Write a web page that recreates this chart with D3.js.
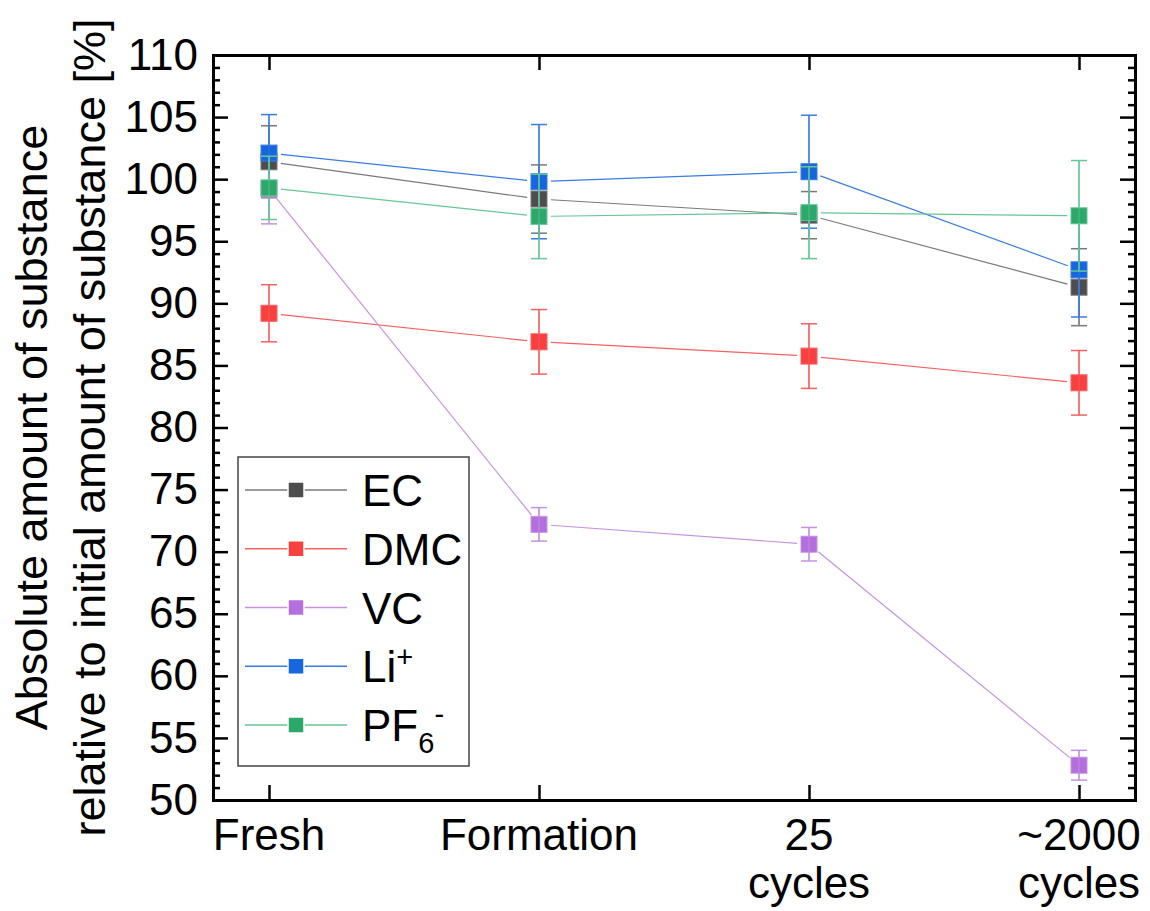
<!DOCTYPE html>
<html lang="en">
<head>
    <meta charset="UTF-8">
    <title>Absolute amount of substance</title>
    <script src="https://d3js.org/d3.v7.min.js"></script>
    <style>
        body { margin: 0; background: #fff; }
        svg { display: block; }
        text {
            font-family: "Liberation Sans", Arial, sans-serif;
            fill: #000;
        }
        .axis .domain { stroke: #000; stroke-width: 3; stroke-linecap: square; }
        .axis .tick line { stroke: #000; stroke-width: 2.5; }
        .axis text { font-size: 44px; }
    </style>
</head>
<body>
<svg id="chart" width="1150" height="911"></svg>

<script>
    // stages along x, second line used for "cycles"
    const stages = ["Fresh", "Formation", "25 cycles", "~2000 cycles"];
    const stageLines = [["Fresh"], ["Formation"], ["25", "cycles"], ["~2000", "cycles"]];

    const seriesNames = ["EC", "DMC", "VC", "Li+", "PF6-"];
    const ecValues  = [101.4, 98.4, 97.1, 91.3];
    const ecErrors  = [2.9, 2.75, 1.9, 3.1];
    const dmcValues = [89.2, 86.9, 85.75, 83.6];
    const dmcErrors = [2.3, 2.6, 2.6, 2.6];
    const vcValues  = [99.2, 72.2, 70.6, 52.8];
    const vcErrors  = [2.8, 1.35, 1.35, 1.2];
    const liValues  = [102.1, 99.8, 100.6, 92.7];
    const liErrors  = [3.1, 4.6, 4.55, 3.8];
    const pfValues  = [99.3, 97.0, 97.3, 97.05];
    const pfErrors  = [2.55, 3.4, 3.7, 4.45];

    const yTicks = d3.range(50, 111, 5);
    const yMinorTicks = d3.range(50, 111, 1).filter(v => v % 5 !== 0);

    const colors = ["#4d4d4d", "#f94040", "#b370dc", "#1666dd", "#2ca86a"];
    const lineColors = ["#7a7a7a", "#f86060", "#c592e6", "#3a7ce6", "#66c696"];

    const series = [
        { name: "EC", values: ecValues, errors: ecErrors },
        { name: "DMC", values: dmcValues, errors: dmcErrors },
        { name: "VC", values: vcValues, errors: vcErrors },
        { name: "Li+", values: liValues, errors: liErrors },
        { name: "PF6-", values: pfValues, errors: pfErrors }
    ];

    const margin = { top: 55, right: 15, bottom: 111, left: 213 };
    const width = 1150 - margin.left - margin.right;
    const height = 911 - margin.top - margin.bottom;

    const svg = d3.select("#chart");
    const g = svg.append("g").attr("transform", `translate(${margin.left},${margin.top})`);

    const x = d3.scalePoint().domain(stages).range([0, width]).padding(0.2074);
    const y = d3.scaleLinear().domain([50, 110]).range([height, 0]);

    const markerSize = 16;
    const capWidth = 16;
    const gap = 12; // lines stop short of the markers

    // series: lines, error bars, markers
    series.forEach((s, i) => {
        const pts = s.values.map((v, j) => ({ x: x(stages[j]), y: y(v), lo: y(v - s.errors[j]), hi: y(v + s.errors[j]) }));
        const sg = g.append("g");

        for (let j = 0; j < pts.length - 1; j++) {
            const a = pts[j], b = pts[j + 1];
            const dx = b.x - a.x, dy = b.y - a.y;
            const len = Math.sqrt(dx * dx + dy * dy);
            const ux = dx / len, uy = dy / len;
            sg.append("line")
                .attr("x1", a.x + ux * gap).attr("y1", a.y + uy * gap)
                .attr("x2", b.x - ux * gap).attr("y2", b.y - uy * gap)
                .attr("stroke", lineColors[i]).attr("stroke-width", 1.2);
        }

        pts.forEach(p => {
            sg.append("line")
                .attr("x1", p.x).attr("x2", p.x).attr("y1", p.hi).attr("y2", p.lo)
                .attr("stroke", lineColors[i]).attr("stroke-width", 1.5);
            [p.hi, p.lo].forEach(cy => {
                sg.append("line")
                    .attr("x1", p.x - capWidth / 2).attr("x2", p.x + capWidth / 2)
                    .attr("y1", cy).attr("y2", cy)
                    .attr("stroke", lineColors[i]).attr("stroke-width", 1.5);
            });
        });

        sg.selectAll("rect")
            .data(pts)
            .enter().append("rect")
            .attr("x", d => d.x - markerSize / 2)
            .attr("y", d => d.y - markerSize / 2)
            .attr("width", markerSize)
            .attr("height", markerSize)
            .attr("fill", colors[i])
            .attr("stroke", lineColors[i])
            .attr("stroke-width", 1);

        // error bar stems drawn over own marker, like the original
        pts.forEach(p => {
            sg.append("line")
                .attr("x1", p.x).attr("x2", p.x).attr("y1", p.hi).attr("y2", p.lo)
                .attr("stroke", lineColors[i]).attr("stroke-width", 1.2).attr("opacity", 0.6);
        });
    });

    // axes (ticks inward on all four sides)
    g.append("g").attr("class", "axis")
        .call(d3.axisLeft(y).tickValues(yTicks).tickSize(-15).tickSizeOuter(0).tickPadding(15));
    g.append("g").attr("class", "axis")
        .call(d3.axisLeft(y).tickValues(yMinorTicks).tickSize(-7).tickSizeOuter(0).tickFormat(""))
        .select(".domain").remove();
    g.append("g").attr("class", "axis").attr("transform", `translate(${width},0)`)
        .call(d3.axisRight(y).tickValues(yTicks).tickSize(-15).tickSizeOuter(0).tickFormat(""));
    g.append("g").attr("class", "axis").attr("transform", `translate(${width},0)`)
        .call(d3.axisRight(y).tickValues(yMinorTicks).tickSize(-7).tickSizeOuter(0).tickFormat(""))
        .select(".domain").remove();
    g.append("g").attr("class", "axis").attr("transform", `translate(0,${height})`)
        .call(d3.axisBottom(x).tickSize(-15).tickSizeOuter(0).tickFormat(""));
    g.append("g").attr("class", "axis")
        .call(d3.axisTop(x).tickSize(-15).tickSizeOuter(0).tickFormat(""));

    // x labels, two lines where needed
    const xLabels = g.append("g");
    stages.forEach((st, i) => {
        const t = xLabels.append("text")
            .attr("x", x(st))
            .attr("y", height + 50)
            .attr("text-anchor", "middle")
            .style("font-size", "44px");
        stageLines[i].forEach((ln, k) => {
            t.append("tspan").attr("x", x(st)).attr("dy", k === 0 ? 0 : 48).text(ln);
        });
    });

    // y title
    const title = svg.append("text")
        .attr("transform", `translate(47,${margin.top + height / 2}) rotate(-90)`)
        .attr("text-anchor", "middle")
        .style("font-size", "45px");
    title.append("tspan").attr("x", 0).attr("dy", 0).text("Absolute amount of substance");
    title.append("tspan").attr("x", 0).attr("dy", 58).text("relative to initial amount of substance [%]");

    // legend
    const legend = svg.append("g").attr("transform", "translate(238,457)");
    legend.append("rect")
        .attr("width", 231).attr("height", 309)
        .attr("fill", "#fff").attr("stroke", "#444").attr("stroke-width", 1.5);

    const legendY = d3.scalePoint().domain(seriesNames).range([33, 268]);
    seriesNames.forEach((name, i) => {
        const ly = legendY(name);
        const row = legend.append("g").attr("transform", `translate(0,${ly})`);
        row.append("line").attr("x1", 7).attr("x2", 109).attr("y1", 0).attr("y2", 0)
            .attr("stroke", lineColors[i]).attr("stroke-width", 1.5);
        row.append("rect")
            .attr("x", 58 - markerSize / 2).attr("y", -markerSize / 2)
            .attr("width", markerSize).attr("height", markerSize)
            .attr("fill", colors[i]).attr("stroke", "#fff").attr("stroke-width", 1.5);
        const t = row.append("text").attr("x", 124).attr("y", 16).style("font-size", "44px");
        if (name === "Li+") {
            t.append("tspan").text("Li");
            t.append("tspan").attr("dy", -15).style("font-size", "29px").text("+");
        } else if (name === "PF6-") {
            t.append("tspan").text("PF");
            t.append("tspan").attr("dy", 12).style("font-size", "29px").text("6");
            t.append("tspan").attr("dy", -29).style("font-size", "29px").text("-");
        } else {
            t.text(name);
        }
    });
</script>
</body>
</html>
